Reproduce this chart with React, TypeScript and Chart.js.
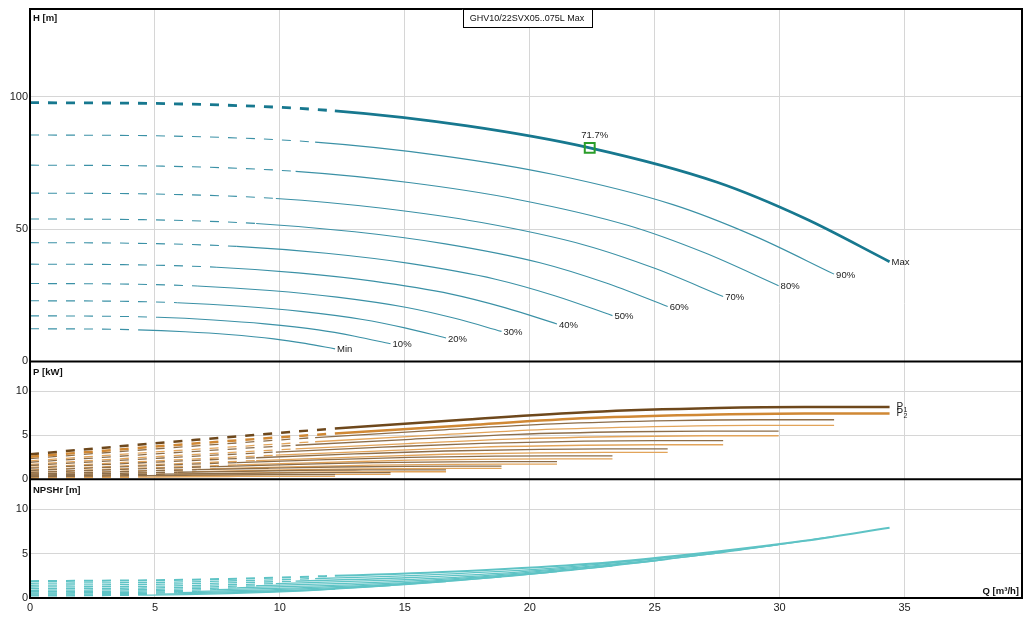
import React, { useRef, useEffect } from 'react';
import { Chart, registerables } from 'chart.js';

Chart.register(...registerables);

// curves from Min speed up to Max, one row per curve
const curveLabels = ['Min', '10%', '20%', '30%', '40%', '50%', '60%', '70%', '80%', '90%', 'Max'];

const flowQ: number[][] = [
  [0, 2.17, 4.33, 6.21, 7.95, 9.76, 11.01, 12.21],
  [0, 2.56, 5.12, 7.34, 9.4, 11.54, 13.0, 14.43],
  [0, 2.95, 5.9, 8.47, 10.84, 13.31, 15.0, 16.65],
  [0, 3.35, 6.69, 9.6, 12.29, 15.08, 17.0, 18.87],
  [0, 3.74, 7.48, 10.73, 13.73, 16.86, 19.0, 21.09],
  [0, 4.13, 8.27, 11.86, 15.18, 18.63, 21.0, 23.31],
  [0, 4.53, 9.05, 12.99, 16.62, 20.41, 23.0, 25.52],
  [0, 4.92, 9.84, 14.11, 18.07, 22.18, 25.0, 27.74],
  [0, 5.31, 10.63, 15.24, 19.51, 23.95, 27.0, 29.96],
  [0, 5.71, 11.41, 16.37, 20.96, 25.73, 29.0, 32.18],
  [0, 6.1, 12.2, 17.5, 22.4, 27.5, 31.0, 34.4],
];

const headH: number[][] = [
  [12.32, 12.26, 11.93, 11.21, 10.17, 8.53, 6.82, 4.75],
  [17.21, 17.12, 16.67, 15.66, 14.2, 11.92, 9.52, 6.64],
  [22.91, 22.8, 22.19, 20.85, 18.91, 15.86, 12.68, 8.83],
  [29.43, 29.28, 28.5, 26.78, 24.28, 20.37, 16.28, 11.34],
  [36.75, 36.57, 35.59, 33.45, 30.33, 25.44, 20.33, 14.17],
  [44.89, 44.66, 43.47, 40.85, 37.04, 31.07, 24.83, 17.3],
  [53.85, 53.57, 52.14, 49.0, 44.43, 37.28, 29.79, 20.76],
  [63.61, 63.28, 61.59, 57.89, 52.49, 44.03, 35.19, 24.52],
  [74.19, 73.81, 71.84, 67.52, 61.22, 51.36, 41.04, 28.6],
  [85.59, 85.16, 82.88, 77.89, 70.63, 59.25, 47.35, 32.99],
  [97.8, 97.3, 94.7, 89.0, 80.7, 67.7, 54.1, 37.7],
];

const powerP1: number[][] = [
  [0.27, 0.34, 0.4, 0.45, 0.49, 0.51, 0.51, 0.51],
  [0.35, 0.46, 0.56, 0.64, 0.7, 0.74, 0.75, 0.75],
  [0.46, 0.63, 0.79, 0.9, 1.0, 1.05, 1.07, 1.07],
  [0.59, 0.84, 1.08, 1.25, 1.39, 1.46, 1.48, 1.48],
  [0.77, 1.12, 1.44, 1.68, 1.88, 1.98, 2.01, 2.01],
  [0.99, 1.46, 1.89, 2.22, 2.48, 2.62, 2.66, 2.66],
  [1.25, 1.87, 2.44, 2.87, 3.21, 3.4, 3.45, 3.45],
  [1.56, 2.35, 3.09, 3.64, 4.08, 4.32, 4.38, 4.38],
  [1.93, 2.93, 3.86, 4.54, 5.11, 5.4, 5.48, 5.48],
  [2.35, 3.59, 4.74, 5.59, 6.29, 6.66, 6.76, 6.76],
  [2.84, 4.35, 5.76, 6.8, 7.65, 8.1, 8.22, 8.22],
];

const powerP2: number[][] = [
  [0.11, 0.18, 0.23, 0.28, 0.31, 0.33, 0.33, 0.33],
  [0.19, 0.29, 0.38, 0.45, 0.51, 0.54, 0.55, 0.55],
  [0.29, 0.45, 0.59, 0.7, 0.79, 0.83, 0.85, 0.85],
  [0.42, 0.65, 0.86, 1.02, 1.15, 1.21, 1.23, 1.23],
  [0.59, 0.91, 1.2, 1.42, 1.6, 1.69, 1.72, 1.72],
  [0.79, 1.23, 1.62, 1.91, 2.16, 2.29, 2.32, 2.32],
  [1.04, 1.61, 2.12, 2.51, 2.84, 3.0, 3.05, 3.05],
  [1.34, 2.07, 2.73, 3.23, 3.65, 3.86, 3.92, 3.92],
  [1.69, 2.61, 3.44, 4.06, 4.59, 4.86, 4.94, 4.94],
  [2.09, 3.23, 4.26, 5.04, 5.69, 6.02, 6.12, 6.12],
  [2.55, 3.95, 5.2, 6.15, 6.95, 7.35, 7.47, 7.47],
];

const npshR: number[][] = [
  [0.24, 0.26, 0.32, 0.38, 0.49, 0.66, 0.81, 1.0],
  [0.33, 0.36, 0.44, 0.54, 0.68, 0.92, 1.14, 1.4],
  [0.45, 0.48, 0.59, 0.72, 0.9, 1.23, 1.51, 1.86],
  [0.57, 0.62, 0.75, 0.92, 1.16, 1.58, 1.94, 2.39],
  [0.71, 0.77, 0.94, 1.15, 1.45, 1.97, 2.42, 2.98],
  [0.87, 0.94, 1.15, 1.4, 1.77, 2.41, 2.96, 3.64],
  [1.05, 1.13, 1.38, 1.68, 2.12, 2.89, 3.55, 4.37],
  [1.24, 1.33, 1.63, 1.98, 2.5, 3.42, 4.2, 5.16],
  [1.44, 1.56, 1.9, 2.31, 2.92, 3.98, 4.89, 6.02],
  [1.66, 1.79, 2.19, 2.67, 3.37, 4.6, 5.65, 6.94],
  [1.9, 2.05, 2.5, 3.05, 3.85, 5.25, 6.45, 7.93],
];

// points before this index are drawn dashed
const dashedUntil = 2;

const dutyQ = 22.4;
const dutyH = 80.7;
const dutyLabel = '71.7%';

const title = 'GHV10/22SVX05..075L Max';
const panelTitles = ['H [m]', 'P [kW]', 'NPSHr [m]'];
const xTitle = 'Q [m³/h]';

const FONT = '"Liberation Sans", Arial, sans-serif';

const pts = (qs: number[], vs: number[]) => qs.map((q, j) => ({ x: q, y: vs[j] }));
const dash = (c: any) => (c.p0DataIndex < dashedUntil ? [9, 9] : undefined);

const overlay = {
  id: 'overlay',
  afterDraw(chart: any) {
    const { ctx, chartArea: a, scales } = chart;
    const { x, yH, yP, yN } = scales;
    ctx.save();

    // curve end labels
    ctx.font = `9.5px ${FONT}`;
    ctx.fillStyle = '#222';
    ctx.textBaseline = 'middle';
    ctx.textAlign = 'left';
    curveLabels.forEach((lab, i) => {
      const n = flowQ[i].length - 1;
      ctx.fillText(lab, x.getPixelForValue(flowQ[i][n]) + 2, yH.getPixelForValue(headH[i][n]) + 1);
    });

    // duty point label
    ctx.textAlign = 'center';
    ctx.fillText(dutyLabel, x.getPixelForValue(dutyQ) + 5, yH.getPixelForValue(dutyH) - 12.5);

    // P1 / P2 labels
    const last = curveLabels.length - 1;
    const n = flowQ[last].length - 1;
    const px = x.getPixelForValue(flowQ[last][n]) + 7;
    ctx.textAlign = 'left';
    [[powerP1, '1'], [powerP2, '2']].forEach(([arr, sub]: any) => {
      const py = yP.getPixelForValue(arr[last][n]);
      ctx.font = `10px ${FONT}`;
      ctx.fillText('P', px, py);
      ctx.font = `7px ${FONT}`;
      ctx.fillText(sub, px + 7, py + 3);
    });

    // borders
    ctx.strokeStyle = '#000';
    ctx.lineWidth = 2;
    ctx.strokeRect(a.left, a.top, a.right - a.left, a.bottom - a.top);
    ctx.beginPath();
    ctx.moveTo(a.left, yP.top);
    ctx.lineTo(a.right, yP.top);
    ctx.moveTo(a.left, yN.top);
    ctx.lineTo(a.right, yN.top);
    ctx.stroke();

    // panel titles
    ctx.font = `bold 9.5px ${FONT}`;
    ctx.fillStyle = '#111';
    ctx.textAlign = 'left';
    ctx.fillText(panelTitles[0], a.left + 3, yH.top + 9);
    ctx.fillText(panelTitles[1], a.left + 3, yP.top + 11);
    ctx.fillText(panelTitles[2], a.left + 3, yN.top + 11);
    ctx.textAlign = 'right';
    ctx.fillText(xTitle, a.right - 3, a.bottom - 7);

    // title box
    ctx.font = `9px ${FONT}`;
    const tw = ctx.measureText(title).width + 14;
    const cx = (a.left + a.right) / 2 + 1;
    ctx.fillStyle = '#fff';
    ctx.fillRect(cx - tw / 2, a.top, tw, 18);
    ctx.lineWidth = 1;
    ctx.strokeRect(Math.round(cx - tw / 2) + 0.5, a.top + 0.5, Math.round(tw), 18);
    ctx.fillStyle = '#111';
    ctx.textAlign = 'center';
    ctx.fillText(title, cx, a.top + 9.5);
    ctx.restore();
  },
};

const App: React.FC = () => {
  const canvasRef = useRef<HTMLCanvasElement>(null);

  useEffect(() => {
    if (!canvasRef.current) return;
    const last = curveLabels.length - 1;
    const datasets: any[] = [];

    datasets.push({
      label: 'duty',
      yAxisID: 'yH',
      data: [{ x: dutyQ, y: dutyH }],
      showLine: false,
      pointStyle: 'rect',
      pointRadius: 7,
      pointBorderWidth: 2,
      pointBorderColor: '#2a9d2a',
      pointBackgroundColor: 'rgba(255,255,255,0)',
    });

    curveLabels.forEach((lab, i) => {
      const isMax = i === last;
      const common = {
        showLine: true,
        pointRadius: 0,
        cubicInterpolationMode: 'monotone',
        segment: { borderDash: dash },
      };
      datasets.push({
        ...common,
        label: 'H ' + lab,
        yAxisID: 'yH',
        data: pts(flowQ[i], headH[i]),
        borderColor: isMax ? '#17788f' : '#3b91a6',
        borderWidth: isMax ? 2.8 : 1.1,
        order: isMax ? 1 : 2,
      });
      datasets.push({
        ...common,
        label: 'P1 ' + lab,
        yAxisID: 'yP',
        data: pts(flowQ[i], powerP1[i]),
        borderColor: isMax ? '#6e481c' : '#8c6d49',
        borderWidth: isMax ? 2.5 : 1.3,
        order: isMax ? 1 : 3,
      });
      datasets.push({
        ...common,
        label: 'P2 ' + lab,
        yAxisID: 'yP',
        data: pts(flowQ[i], powerP2[i]),
        borderColor: isMax ? '#d08834' : '#e2a45a',
        borderWidth: isMax ? 2.5 : 1.3,
        order: isMax ? 1 : 3,
      });
      datasets.push({
        ...common,
        label: 'NPSH ' + lab,
        yAxisID: 'yN',
        data: pts(flowQ[i], npshR[i]),
        borderColor: '#5ec3c5',
        borderWidth: isMax ? 2 : 1.3,
        order: isMax ? 1 : 3,
      });
    });

    const tickFont = { family: FONT, size: 11 };
    const yBase = (weight: number, stackWeight: number, max: number, step: number) => ({
      type: 'linear',
      position: 'left',
      stack: 'pump',
      stackWeight,
      weight,
      min: 0,
      max,
      ticks: { stepSize: step, includeBounds: false, font: tickFont, color: '#222', padding: 2 },
      grid: { color: '#d6d6d6', drawTicks: false },
      border: { display: false },
      afterFit: (s: any) => {
        s.width = 30;
      },
    });

    const chart = new Chart(canvasRef.current, {
      type: 'scatter',
      data: { datasets },
      options: {
        animation: false,
        responsive: true,
        maintainAspectRatio: false,
        layout: { padding: { left: 0, top: 8, right: 13, bottom: 0 } },
        plugins: { legend: { display: false }, tooltip: { enabled: false } },
        scales: {
          x: {
            type: 'linear',
            min: 0,
            max: 39.7,
            ticks: { stepSize: 5, includeBounds: false, font: tickFont, color: '#222', padding: 3 },
            grid: { color: '#d6d6d6', drawTicks: false },
            border: { display: false },
            afterFit: (s: any) => {
              s.height = 23;
            },
          },
          yH: yBase(3, 353, 133.2, 50),
          yP: yBase(2, 118, 13.4, 5),
          yN: yBase(1, 119, 13.4, 5),
        } as any,
      },
      plugins: [overlay],
    });
    return () => chart.destroy();
  }, []);

  return (
    <div style={{ position: 'absolute', left: 0, top: 0, width: 1035, height: 621, background: '#fff' }}>
      <canvas ref={canvasRef} />
    </div>
  );
};

export default App;
